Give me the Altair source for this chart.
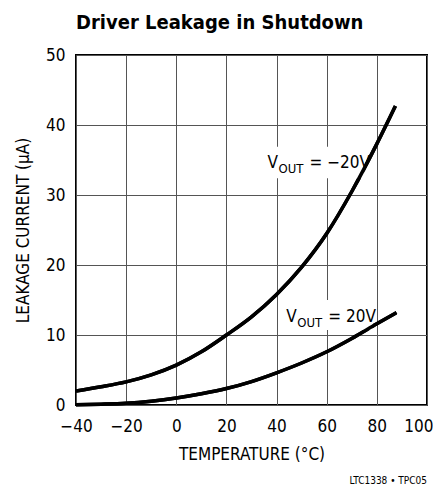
import altair as alt
import pandas as pd

FONT = "DejaVu Sans Condensed, Roboto, sans-serif"

# Curve data (temperature in °C, leakage current in µA)
temp_neg = [-40, -30, -20, -10, 0, 10, 20, 30, 40, 50, 60, 70, 80, 87.4]
leak_neg = [2.0, 2.6, 3.3, 4.3, 5.7, 7.6, 10.0, 12.6, 15.8, 19.7, 24.5, 30.5, 37.3, 42.7]
temp_pos = [-40, -30, -20, -10, 0, 10, 20, 30, 40, 50, 60, 70, 80, 87.8]
leak_pos = [0.05, 0.12, 0.25, 0.55, 1.0, 1.6, 2.35, 3.35, 4.6, 6.0, 7.6, 9.5, 11.6, 13.2]

# Curve labels
label_T = [36.4, 43.9]
label_I = [33.8, 11.9]
label_rest = ["= \u221220V", "= 20V"]
box_T1 = [35.5, 42.6]
box_T2 = [75.0, 78.3]
box_I1 = [32.4, 10.7]
box_I2 = [36.9, 15.0]

x_ticks = [-40, -20, 0, 20, 40, 60, 80, 100]
y_ticks = [0, 10, 20, 30, 40, 50]

title_text = ["Driver Leakage in Shutdown"]
footer_text = ["LTC1338 \u2022 TPC05"]

curves = pd.concat([
    pd.DataFrame({"T": temp_neg, "I": leak_neg, "s": "neg"}),
    pd.DataFrame({"T": temp_pos, "I": leak_pos, "s": "pos"}),
])
labels = pd.DataFrame({"T": label_T, "I": label_I, "rest": label_rest})
boxes = pd.DataFrame({"T1": box_T1, "T2": box_T2, "I1": box_I1, "I2": box_I2})

xscale = alt.Scale(domain=[-40, 100], nice=False, zero=False)
yscale = alt.Scale(domain=[0, 50], nice=False)

xaxis = alt.Axis(values=x_ticks, title="TEMPERATURE (°C)", grid=True, ticks=False,
                 domain=False, labelFontSize=17, labelPadding=13, labelFont=FONT,
                 titleFont=FONT, titleFontSize=17, titleFontWeight="normal",
                 titlePadding=12, gridColor="#555", gridWidth=1, labelColor="black",
                 titleColor="black", labelFlush=False,
                 labelAlign=alt.condition("datum.value == 100", alt.value("right"),
                                          alt.value("center")),
                 labelOffset=alt.condition("datum.value == 100", alt.value(6),
                                           alt.value(0)))
yaxis = alt.Axis(values=y_ticks, title="LEAKAGE CURRENT (\u00b5A)", grid=True, ticks=False,
                 domain=False, labelFontSize=17, labelPadding=11, labelFont=FONT,
                 titleFont=FONT, titleFontSize=17, titleFontWeight="normal",
                 titlePadding=13, gridColor="#555", gridWidth=1, labelColor="black",
                 titleColor="black", labelFlush=False)

base_lines = alt.Chart(curves).mark_line(color="black", strokeWidth=3.5,
                                         interpolate="monotone").encode(
    x=alt.X("T:Q", scale=xscale, axis=xaxis),
    y=alt.Y("I:Q", scale=yscale, axis=yaxis),
    detail="s:N",
)

rects = alt.Chart(boxes).mark_rect(color="white").encode(
    x=alt.X("T1:Q", scale=xscale), x2="T2:Q",
    y=alt.Y("I1:Q", scale=yscale), y2="I2:Q",
)

v_text = alt.Chart(labels).mark_text(text="V", align="left", baseline="alphabetic",
                                     font=FONT, fontSize=17, color="black").encode(
    x=alt.X("T:Q", scale=xscale), y=alt.Y("I:Q", scale=yscale))
sub_text = alt.Chart(labels).mark_text(text="OUT", align="left", baseline="alphabetic",
                                       font=FONT, fontSize=13, dx=11, dy=5,
                                       color="black").encode(
    x=alt.X("T:Q", scale=xscale), y=alt.Y("I:Q", scale=yscale))
rest_text = alt.Chart(labels).mark_text(align="left", baseline="alphabetic",
                                        font=FONT, fontSize=17, dx=42,
                                        color="black").encode(
    x=alt.X("T:Q", scale=xscale), y=alt.Y("I:Q", scale=yscale), text="rest:N")

title = alt.Chart(pd.DataFrame({"t": title_text})).mark_text(
    align="left", baseline="alphabetic", font=FONT, fontSize=20, fontWeight="bold",
    color="black").encode(x=alt.value(0), y=alt.value(-26), text="t:N")

footer = alt.Chart(pd.DataFrame({"t": footer_text})).mark_text(
    align="right", baseline="alphabetic", font=FONT, fontSize=10, color="black").encode(
    x=alt.value(351), y=alt.value(429), text="t:N")

chart = alt.layer(base_lines, rects, base_lines, v_text, sub_text, rest_text,
                  title, footer).properties(
    width=351, height=350,
    autosize=alt.AutoSizeParams(type="none"),
    padding={"left": 68, "top": 47, "right": 6, "bottom": 81},
).configure_view(stroke="black", strokeWidth=2)

chart.save("out.html", embed_options={"renderer": "svg", "actions": False})
